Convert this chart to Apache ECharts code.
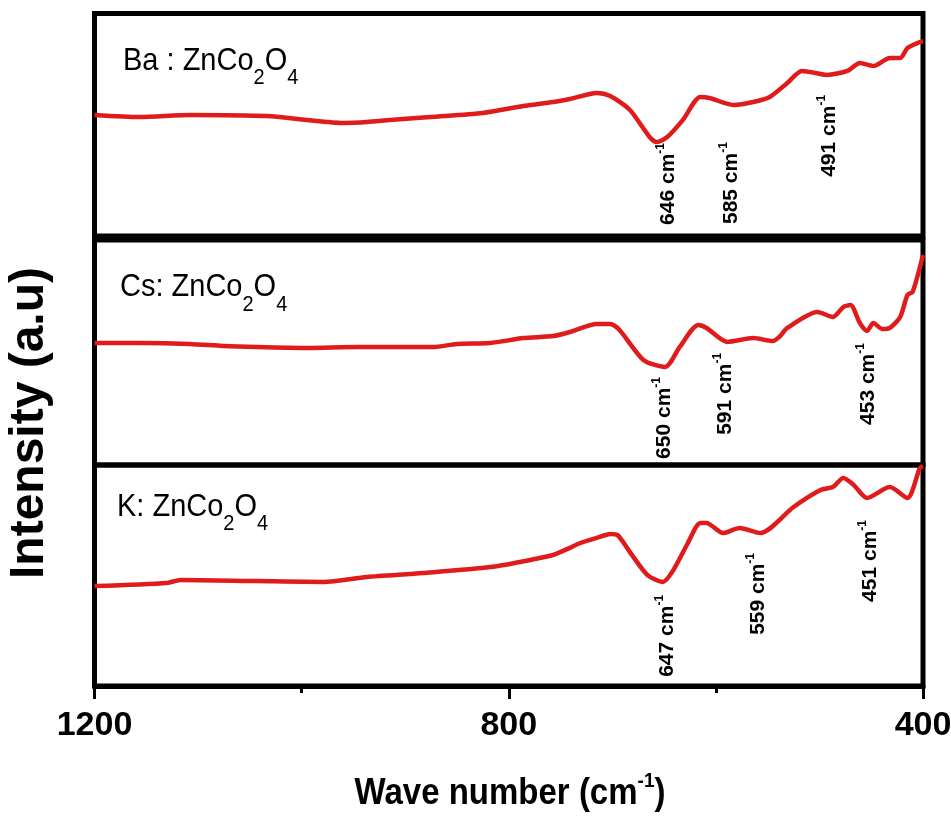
<!DOCTYPE html>
<html>
<head>
<meta charset="utf-8">
<script src="https://cdn.jsdelivr.net/npm/echarts@6/dist/echarts.min.js"></script>
<style>
  html, body { margin: 0; padding: 0; background: #ffffff; }
  #chart { width: 951px; height: 827px; }
</style>
</head>
<body>
<div id="chart"></div>
<script>
// FTIR spectra of doped ZnCo2O4, wave number axis runs 1200 -> 400 cm^-1

// Ba : ZnCo2O4
const baWave = [1200, 1156, 1108, 1033, 995, 960, 937, 915, 876, 825, 786, 757, 741, 715, 702, 683, 664, 657, 647, 632, 615, 606, 583, 564, 548, 531, 517, 509, 493, 473, 461, 448, 432, 422, 415, 403, 400];
const baIntensity = [54.4, 53.5, 54.4, 53.9, 52.1, 50.8, 51.2, 52.1, 53.5, 55.3, 58.4, 60.2, 61.6, 64.3, 62.9, 56.6, 44.5, 42.2, 44.5, 52.1, 62.5, 62.0, 58.9, 60.2, 62.5, 68.8, 74.2, 73.7, 72.4, 74.2, 77.8, 76.4, 80.0, 80.0, 84.5, 87.2, 87.5];
const baPeaks = [646, 585, 491];

// Cs: ZnCo2O4
const csWave = [1200, 1156, 1108, 1076, 1043, 995, 947, 873, 850, 818, 786, 757, 741, 715, 702, 693, 670, 649, 635, 617, 609, 589, 564, 545, 538, 531, 502, 487, 477, 470, 461, 454, 448, 439, 432, 422, 415, 410, 400];
const csIntensity = [54.2, 54.2, 53.8, 52.9, 52.4, 52.0, 52.4, 52.4, 53.8, 54.2, 56.4, 57.3, 59.1, 62.7, 62.7, 60.0, 46.7, 43.6, 52.4, 62.2, 60.9, 54.7, 56.4, 55.1, 57.3, 60.9, 68.0, 65.8, 70.2, 71.1, 63.1, 59.6, 63.1, 60.4, 60.9, 65.8, 75.6, 76.9, 93.3];
const csPeaks = [650, 591, 453];

// K: ZnCo2O4
const kWave = [1200, 1130, 1117, 1043, 979, 937, 883, 818, 770, 757, 741, 731, 715, 702, 695, 683, 666, 651, 641, 628, 615, 609, 593, 577, 557, 525, 499, 487, 477, 467, 454, 432, 415, 403, 400];
const kIntensity = [45.2, 46.6, 48.0, 47.5, 47.1, 49.3, 51.1, 53.8, 57.9, 59.3, 62.5, 64.7, 67.0, 68.8, 68.3, 60.6, 50.2, 47.1, 52.5, 63.8, 73.8, 73.8, 69.2, 71.5, 69.2, 81.0, 88.7, 90.0, 94.1, 91.0, 85.1, 90.0, 85.1, 98.6, 99.5];
const kPeaks = [647, 559, 451];

const xTickLabels = [1200, 800, 400];

// panel layout (pixels) and where each peak label starts (axis units of its panel)
const panelLayout = [
  { top: 13.5, height: 222.5, labelTop: [41.8, 42.2, 63.4], titleX: 123, titleY: 33 },
  { top: 240, height: 225, labelTop: [39.1, 49.8, 54.2], titleX: 120, titleY: 259.5 },
  { top: 465, height: 221, labelTop: [41.2, 60.2, 75.1], titleX: 117, titleY: 479 }
];

const panels = [
  { prefix: 'Ba : ZnCo', wave: baWave, intensity: baIntensity, peaks: baPeaks },
  { prefix: 'Cs: ZnCo', wave: csWave, intensity: csIntensity, peaks: csPeaks },
  { prefix: 'K: ZnCo', wave: kWave, intensity: kIntensity, peaks: kPeaks }
];

const RED = '#e01b1b';
const SANS = '"Liberation Sans", Arial, sans-serif';

const grids = [], xAxes = [], yAxes = [], series = [], graphics = [];

panels.forEach((p, i) => {
  const L = panelLayout[i];
  const isLast = i === panels.length - 1;
  grids.push({
    left: 94.5, right: 28, top: L.top, height: L.height,
    show: true, borderColor: '#000', borderWidth: 5,
    backgroundColor: 'transparent', outerBoundsMode: 'none', containLabel: false
  });
  xAxes.push({
    gridIndex: i, type: 'value', inverse: true, min: 400, max: 1200, interval: 400,
    axisLine: { show: isLast, onZero: false, lineStyle: { color: '#000', width: 5 } },
    axisTick: { show: isLast, length: 13, lineStyle: { color: '#000', width: 3 } },
    minorTick: { show: isLast, splitNumber: 2, length: 7, lineStyle: { color: '#000', width: 3 } },
    axisLabel: {
      show: isLast, margin: 23, color: '#000', fontFamily: SANS, fontWeight: 'bold', fontSize: 34,
      formatter: v => (xTickLabels.indexOf(v) >= 0 ? String(v) : '')
    },
    splitLine: { show: false }, minorSplitLine: { show: false }
  });
  yAxes.push({ gridIndex: i, type: 'value', min: 0, max: 100, show: false, splitLine: { show: false } });

  series.push({
    type: 'line', xAxisIndex: i, yAxisIndex: i,
    data: p.wave.map((w, k) => [w, p.intensity[k]]),
    showSymbol: false, smooth: 0.25,
    lineStyle: { color: RED, width: 4.5 },
    itemStyle: { color: RED },
    markPoint: {
      symbol: 'circle', symbolSize: 1,
      itemStyle: { color: 'rgba(0,0,0,0)' },
      label: {
        show: true, position: 'inside', rotate: 90, align: 'right', verticalAlign: 'middle',
        color: '#000',
        formatter: d => '{n|' + d.value + ' cm}{s|-1}',
        rich: {
          n: { fontFamily: SANS, fontWeight: 'bold', fontSize: 21, lineHeight: 27, color: '#000' },
          s: { fontFamily: SANS, fontWeight: 'bold', fontSize: 12, lineHeight: 12, verticalAlign: 'top', color: '#000' }
        }
      },
      data: p.peaks.map((w, k) => ({ coord: [w, L.labelTop[k]], value: w }))
    }
  });

  graphics.push({
    type: 'text', x: L.titleX, y: L.titleY, z: 10, scaleY: 1.08,
    style: {
      text: '{m|' + p.prefix + '}{b|2}{m|O}{b|4}',
      align: 'left', verticalAlign: 'top',
      rich: {
        m: { fontFamily: SANS, fontSize: 29, lineHeight: 52, fill: '#000' },
        b: { fontFamily: SANS, fontSize: 20, lineHeight: 20, verticalAlign: 'bottom', fill: '#000' }
      }
    }
  });
});

// axis titles
graphics.push({
  type: 'text', x: 510, y: 771, z: 10, scaleY: 1.1,
  style: {
    text: '{m|Wave number (cm}{s|-1}{m|)}',
    align: 'center', verticalAlign: 'top',
    rich: {
      m: { fontFamily: SANS, fontWeight: 'bold', fontSize: 33, lineHeight: 42, fill: '#000' },
      s: { fontFamily: SANS, fontWeight: 'bold', fontSize: 19, lineHeight: 19, verticalAlign: 'top', fill: '#000' }
    }
  }
});
graphics.push({
  type: 'text', x: 30, y: 423, rotation: Math.PI / 2, z: 10,
  style: {
    text: 'Intensity (a.u)', align: 'center', verticalAlign: 'middle',
    fontFamily: SANS, fontWeight: 'bold', fontSize: 48, fill: '#000'
  }
});

const chart = echarts.init(document.getElementById('chart'), null, { renderer: 'canvas' });
chart.setOption({
  animation: false,
  backgroundColor: '#ffffff',
  grid: grids,
  xAxis: xAxes,
  yAxis: yAxes,
  series: series,
  graphic: graphics
});
</script>
</body>
</html>
